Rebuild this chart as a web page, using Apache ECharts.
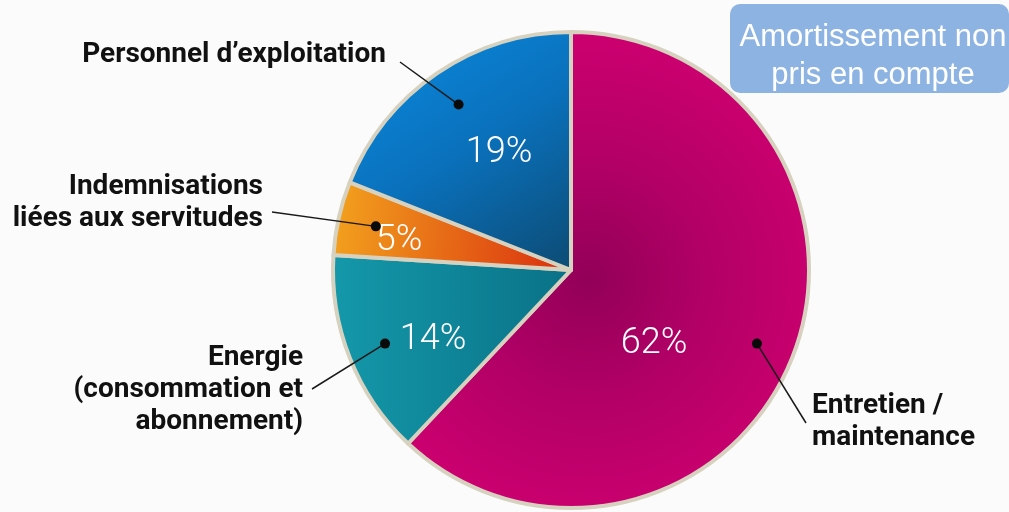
<!DOCTYPE html>
<html><head><meta charset="utf-8">
<script src="https://cdn.jsdelivr.net/npm/echarts@6/dist/echarts.min.js"></script>
<style>html,body{margin:0;padding:0;background:#fbfbfb}#c{width:1009px;height:512px}</style>
</head><body><div id="c"></div>
<script>
// ---- data ----
const categories = ['Entretien / maintenance', 'Energie (consommation et abonnement)', 'Indemnisations liées aux servitudes', 'Personnel d’exploitation'];
const labelTexts = ['Entretien /\nmaintenance', 'Energie\n(consommation et\nabonnement)', 'Indemnisations\nliées aux servitudes', 'Personnel d’exploitation'];
const values = [62, 14, 5, 19];
const noteText = 'Amortissement non\npris en compte';

// ---- styles / layout ----
const sliceColors = [
  {type:'radial', x:0.45, y:0.52, r:0.62, colorStops:[{offset:0,color:'#920058'},{offset:0.45,color:'#b10066'},{offset:1,color:'#cd0070'}]},
  {type:'linear', x:0, y:0, x2:1, y2:0, colorStops:[{offset:0,color:'#1499aa'},{offset:1,color:'#0a7187'}]},
  {type:'linear', x:0, y:0, x2:1, y2:0.3, colorStops:[{offset:0,color:'#f3a41e'},{offset:1,color:'#da300f'}]},
  {type:'linear', x:0.15, y:0, x2:0.85, y2:1, colorStops:[{offset:0,color:'#0a89dd'},{offset:0.5,color:'#0a71bc'},{offset:1,color:'#0c4f7b'}]}
];
const pctPos = [[654,344],[433,340],[399,241],[499,153]];
const outerLabelPos = [
  {x:812, y:422, align:'left',  end:[806,423]},
  {x:303, y:390, align:'right', end:[312,389]},
  {x:263, y:203, align:'right', end:[272,212]},
  {x:386, y:55,  align:'right', end:[400,62]}
];
const CENTER = [571, 270];
const R = 238;

const chart = echarts.init(document.getElementById('c'));
const labelFont = '"Liberation Sans Narrow", "Roboto", sans-serif';

chart.setOption({
  backgroundColor: '#fbfbfb',
  animation: false,
  series: [
    {
      type: 'pie', center: CENTER, radius: [0, R], startAngle: 90, clockwise: true,
      silent: true, avoidLabelOverlap: false,
      itemStyle: {borderColor: '#d6d2bf', borderWidth: 4},
      label: {show: true, position: 'inside', formatter: '{c}%', color: '#ffffff',
              fontFamily: 'Roboto', fontWeight: 300, fontSize: 36},
      labelLayout: function (p) {
        const q = pctPos[p.dataIndex];
        return {x: q[0], y: q[1], align: 'center', verticalAlign: 'middle'};
      },
      data: values.map((v, i) => ({name: categories[i], value: v, itemStyle: {color: sliceColors[i]}}))
    },
    {
      type: 'pie', center: CENTER, radius: [0, 200], startAngle: 90, clockwise: true,
      silent: true, avoidLabelOverlap: false, z: 5,
      itemStyle: {color: 'rgba(0,0,0,0)', borderWidth: 0},
      label: {show: true, position: 'outside', formatter: (p) => labelTexts[p.dataIndex],
              color: '#111111', fontFamily: labelFont, fontWeight: 'bold', fontSize: 28, lineHeight: 32},
      labelLine: {show: true, length: 20, length2: 20, lineStyle: {color: '#1a1a1a', width: 1.5}},
      labelLayout: function (p) {
        const q = outerLabelPos[p.dataIndex];
        return {x: q.x, y: q.y, align: q.align, verticalAlign: 'middle',
                labelLinePoints: [p.labelLinePoints[0], q.end]};
      },
      data: values.map((v, i) => ({name: categories[i], value: v}))
    }
  ]
});

// dots at the start of the leader lines, taken from the library's own pie layout
const data = chart.getModel().getSeriesByIndex(1).getData();
const dots = [];
for (let i = 0; i < data.count(); i++) {
  const l = data.getItemLayout(i);
  const mid = (l.startAngle + l.endAngle) / 2;
  dots.push({type: 'circle', silent: true, z: 100,
    shape: {cx: l.cx + l.r * Math.cos(mid), cy: l.cy + l.r * Math.sin(mid), r: 5},
    style: {fill: '#0a0a0a'}});
}
chart.setOption({
  graphic: dots.concat([
    {type: 'rect', silent: true, z: 100, shape: {x: 730, y: 4, width: 279, height: 89, r: 10},
     style: {fill: '#8db3e2'}},
    {type: 'text', silent: true, z: 101, x: 873, y: 56,
     style: {text: noteText, fill: '#ffffff', fontSize: 31, fontFamily: '"Liberation Sans", Arial, sans-serif',
             lineHeight: 38, align: 'center', verticalAlign: 'middle', textAlign: 'center', textVerticalAlign: 'middle'}}
  ])
});
</script>
</body></html>
